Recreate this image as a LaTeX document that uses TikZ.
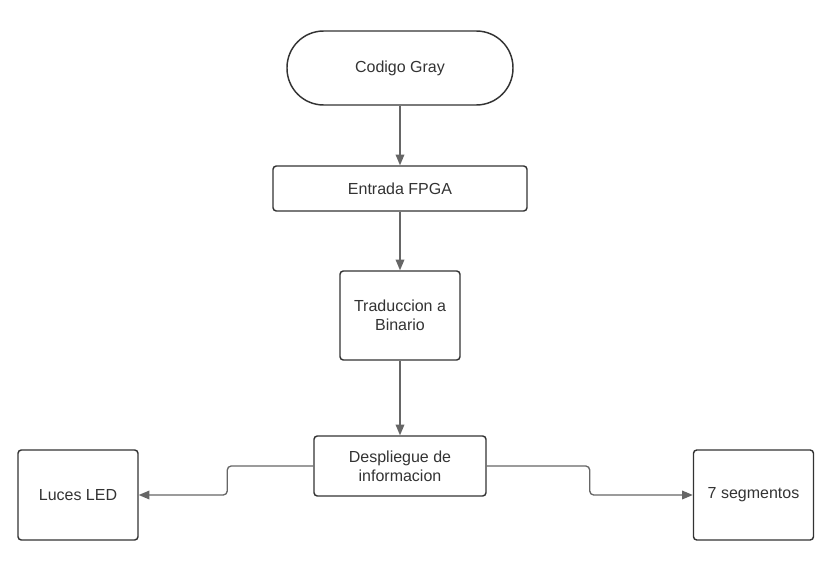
\documentclass[tikz,border=0pt]{standalone}
\usepackage{fontspec}
\setmainfont{Liberation Sans}
\usetikzlibrary{arrows.meta,positioning,shapes,calc}
\definecolor{linegray}{HTML}{666666}
\definecolor{textgray}{HTML}{333333}

\begin{document}
\begin{tikzpicture}[x=0.75pt, y=-0.75pt, font=\fontsize{12}{14.5}\selectfont,
        box/.style={draw=textgray, text=textgray, line width=1.1pt, rounded corners=2.5pt, align=center, inner sep=0pt},
        link/.style={draw=linegray, line width=1pt, -{Triangle[length=8pt,width=6.5pt]}, rounded corners=3pt}]
        \useasboundingbox (0,0) rectangle (836,574);
        %nodes
        \node[box, rounded corners=27.5pt, minimum width=169.5pt, minimum height=55.5pt] (gray) at (400, 68) {Codigo Gray};
        \node[box, minimum width=190.5pt, minimum height=33.75pt] (fpga) at (400, 188.5) {Entrada FPGA};
        \node[box, minimum width=90pt, minimum height=66.75pt] (trad) at (400, 315.5) {Traduccion a\\Binario};
        \node[box, minimum width=129pt, minimum height=45pt] (desp) at (400, 466) {Despliegue de\\informacion};
        \node[box, minimum width=90pt, minimum height=67.5pt] (led) at (78, 495) {Luces LED};
        \node[box, minimum width=90pt, minimum height=67.5pt] (seg) at (753.5, 495) {7 segmentos};
        %edges
        \path [link] (gray) to (fpga);
        \path [link] (fpga) to (trad);
        \path [link] (trad) to (desp);
        \path [link] (desp.west) -- ++(-86,0) |- (led.east);
        \path [link] (desp.east) -- ++(103,0) |- (seg.west);
\end{tikzpicture}
\end{document}
